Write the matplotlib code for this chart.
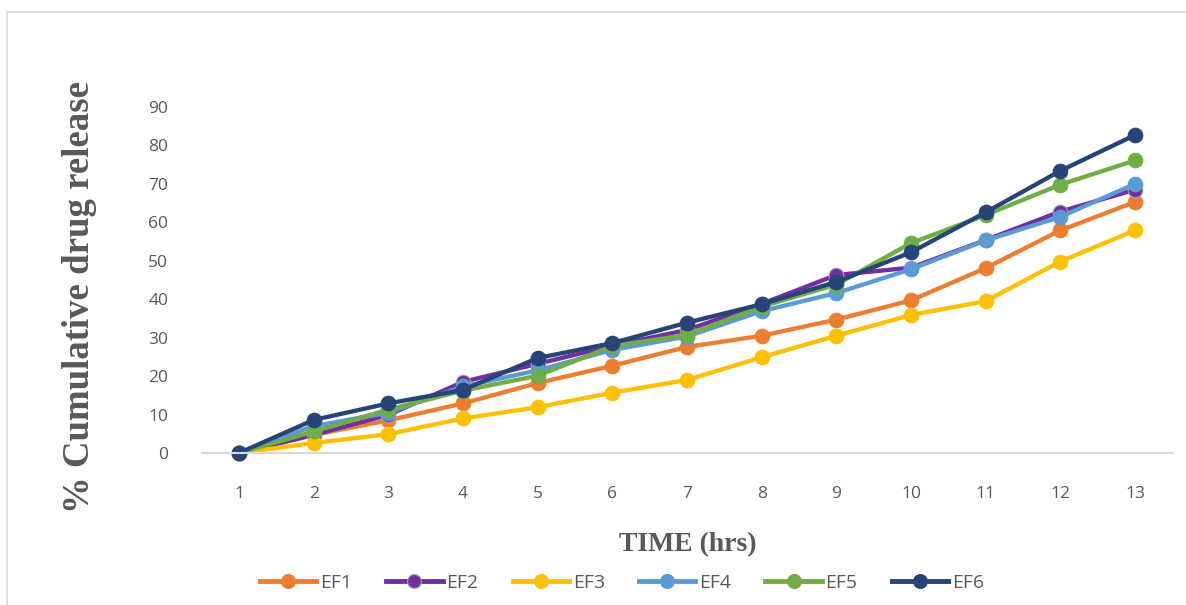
import matplotlib.pyplot as plt
from matplotlib.patches import Rectangle

# Cumulative drug release (%) for each formulation, sampled hourly
hours = [1, 2, 3, 4, 5, 6, 7, 8, 9, 10, 11, 12, 13]
ef1 = [0, 4.7, 8.5, 12.9, 18.2, 22.7, 27.6, 30.5, 34.7, 39.7, 48.1, 57.9, 65.3]
ef2 = [0, 4.7, 9.9, 18.5, 23.2, 27.9, 32.0, 38.8, 46.3, 48.2, 55.4, 62.8, 68.5]
ef3 = [0, 2.6, 4.9, 9.0, 11.9, 15.7, 19.0, 24.9, 30.5, 35.9, 39.5, 49.8, 57.9]
ef4 = [0, 7.0, 10.5, 17.3, 21.5, 26.8, 30.3, 36.9, 41.6, 47.8, 55.3, 61.4, 70.0]
ef5 = [0, 5.6, 11.3, 16.2, 20.1, 27.8, 30.7, 38.1, 43.8, 54.6, 61.9, 69.8, 76.1]
ef6 = [0, 8.6, 12.9, 16.4, 24.7, 28.6, 33.9, 38.7, 44.5, 52.2, 62.6, 73.4, 82.7]

names = ['EF1', 'EF2', 'EF3', 'EF4', 'EF5', 'EF6']
series = [ef1, ef2, ef3, ef4, ef5, ef6]
colors = ['#ED7D31', '#7030A0', '#FFC000', '#5B9BD5', '#70AD47', '#264478']
edges = ['#ED7D31', '#A5A5A5', '#FFC000', '#5B9BD5', '#70AD47', '#264478']

W, H = 1186, 605
fig = plt.figure(figsize=(W / 100, H / 100), dpi=100)

# light chart-area frame
fig.patches.append(Rectangle((7 / W, -0.05), 1.1, (H - 12) / H + 0.05,
                             transform=fig.transFigure, fill=False,
                             edgecolor='#D9D9D9', linewidth=1.2))

ax = fig.add_axes([201.7 / W, (H - 453) / H, 970.6 / W, 346 / H])

for name, vals, c, ec in zip(names, series, colors, edges):
    ax.plot(hours, vals, color=c, linewidth=3.1, marker='o', markersize=10.5,
            markerfacecolor=c, markeredgecolor=ec, markeredgewidth=0.8,
            label=name, clip_on=False)

ax.set_xlim(0.5, 13.5)
ax.set_ylim(0, 90)
ax.set_xticks(hours)
ax.set_yticks(range(0, 91, 10))

for s in ['top', 'right', 'left']:
    ax.spines[s].set_visible(False)
ax.spines['bottom'].set_color('#D9D9D9')
ax.spines['bottom'].set_linewidth(1.5)

ax.tick_params(axis='both', length=0, labelsize=12.5, labelcolor='#595959')
ax.tick_params(axis='y', pad=24)
ax.tick_params(axis='x', pad=24)
for lab in ax.get_xticklabels() + ax.get_yticklabels():
    lab.set_family('Open Sans')

serif = {'family': 'Liberation Serif', 'weight': 'bold', 'color': '#595959'}
fig.text(80 / W, (H - 297) / H, '% Cumulative drug release', rotation=90,
         ha='center', va='center', fontsize=26.5, **serif)
fig.text(688 / W, (H - 545) / H, 'TIME (hrs)', ha='center', va='center',
         fontsize=20, **serif)

leg = fig.legend(loc='center', bbox_to_anchor=(622 / W, (H - 583) / H),
                 ncol=6, frameon=False, handlelength=2.9, columnspacing=1.75,
                 handletextpad=0.2, prop={'family': 'Open Sans', 'size': 14})
for t in leg.get_texts():
    t.set_color('#595959')
for h in leg.legend_handles:
    h.set_markersize(10)
    h.set_linewidth(3.5)

fig.savefig('out.png', dpi=100)
